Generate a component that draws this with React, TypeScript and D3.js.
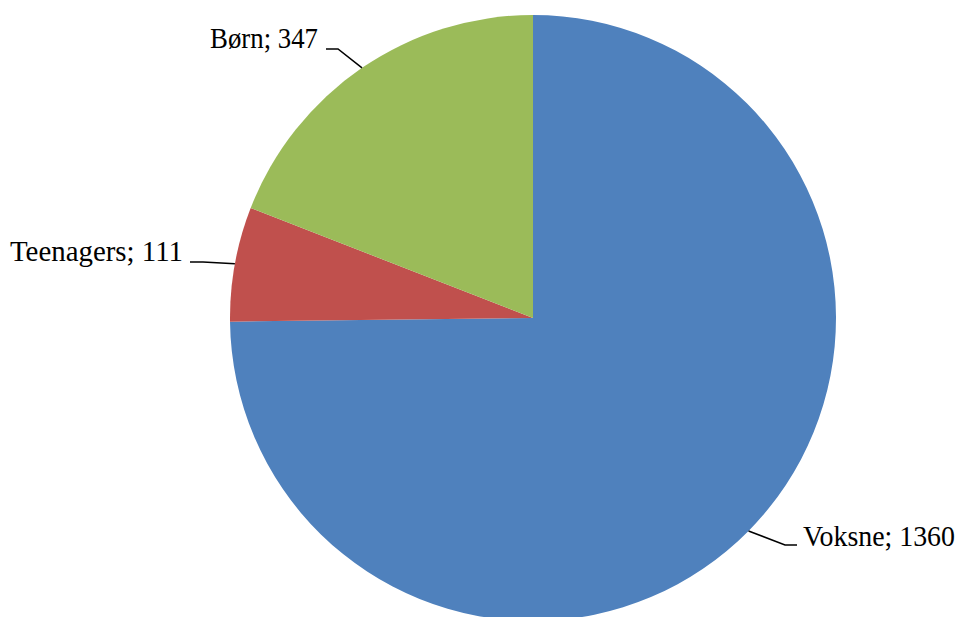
import React from "react";
import * as d3 from "d3";

const categories = ["Voksne", "Teenagers", "Børn"];
const values = [1360, 111, 347];
const colors = ["#4F81BD", "#C0504D", "#9BBB59"];

// layout for labels (elbow point, end of horizontal segment, text start point, text width)
const labelLayout = [
  { elbow: [785, 545], end: [797, 545], text: [803, 546], width: 152 },
  { elbow: [203, 262], end: [190, 262], text: [10, 261], width: 173 },
  { elbow: [338, 49], end: [326, 49], text: [210, 48], width: 108 },
];

const W = 958;
const H = 617;
const cx = 533;
const cy = 318;
const R = 303;

export default function App() {
  const data = categories.map((c, i) => ({ name: c, value: values[i], color: colors[i] }));
  const pie = d3.pie<any>().value((d) => d.value).sort(null);
  const arcs = pie(data);
  const arc = d3.arc<any>().innerRadius(0).outerRadius(R);
  return (
    <svg
      width={W}
      height={H}
      style={{ position: "absolute", left: 0, top: 0, background: "#fff" }}
    >
      <g transform={`translate(${cx},${cy})`}>
        {arcs.map((a, i) => (
          <path key={i} d={arc(a) || ""} fill={data[i].color} />
        ))}
      </g>
      {arcs.map((a, i) => {
        const mid = (a.startAngle + a.endAngle) / 2;
        const px = cx + R * Math.sin(mid);
        const py = cy - R * Math.cos(mid);
        const L = labelLayout[i];
        return (
          <g key={i}>
            <polyline
              points={`${px},${py} ${L.elbow[0]},${L.elbow[1]} ${L.end[0]},${L.end[1]}`}
              fill="none"
              stroke="#000"
              strokeWidth={1.5}
            />
            <text
              x={L.text[0]}
              y={L.text[1]}
              textLength={L.width}
              lengthAdjust="spacingAndGlyphs"
              fontFamily="'Liberation Serif', serif"
              fontSize={28.5}
              fill="#000"
            >
              {`${data[i].name}; ${data[i].value}`}
            </text>
          </g>
        );
      })}
    </svg>
  );
}
